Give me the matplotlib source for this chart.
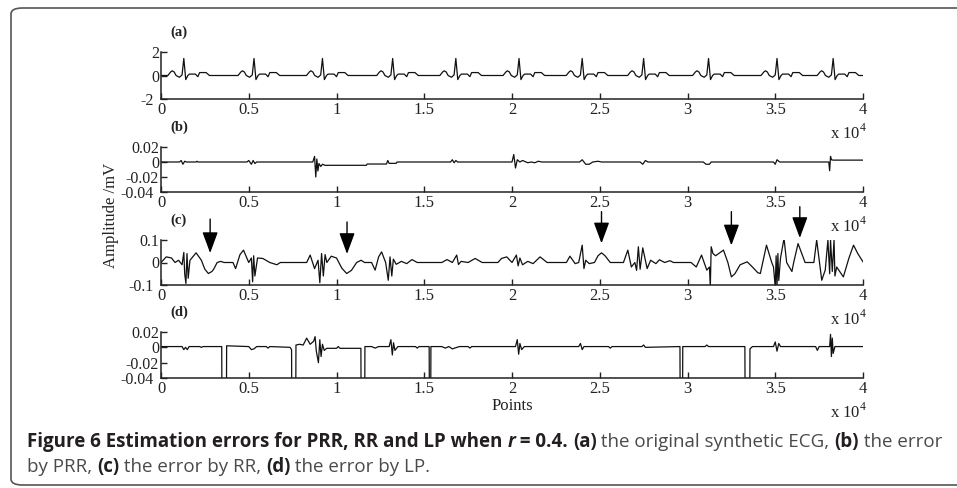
import matplotlib
matplotlib.use("Agg")
import matplotlib.pyplot as plt
import matplotlib.transforms as mtransforms
from matplotlib.patches import FancyBboxPatch

plt.rcParams['font.family'] = 'Liberation Serif'
plt.rcParams['mathtext.fontset'] = 'custom'
plt.rcParams['mathtext.rm'] = 'Liberation Serif'
plt.rcParams['axes.unicode_minus'] = False

W, H = 957, 488

# (a) synthetic ECG: R peak positions (x10^4 points) and one beat shape around the R peak
beat_pos = [0.13, 0.53, 0.92, 1.32, 1.68, 2.04, 2.40, 2.75, 3.12, 3.51, 3.83]
beat_off = [-0.091, -0.075, -0.066, -0.055, -0.044, -0.025, -0.010, 0.0, 0.011, 0.023,
            0.032, 0.066, 0.080, 0.090, 0.127, 0.146]
beat_amp = [0.0, 0.3, 0.4, 0.3, 0.0, -0.15, 0.05, 1.45, -0.35, 0.0,
            0.12, 0.12, -0.1, 0.25, 0.25, 0.0]

# (b) error by PRR
b_x = [0.00, 0.105, 0.115, 0.125, 0.135, 0.145, 0.20, 0.205, 0.21,
       0.49, 0.50, 0.515, 0.525, 0.535, 0.545,
       0.865, 0.875, 0.882, 0.888, 0.894, 0.90, 0.91, 0.92, 0.935, 0.96,
       1.17, 1.175, 1.285, 1.292, 1.30, 1.305, 1.34, 1.345,
       1.65, 1.66, 1.67, 1.68, 1.69,
       2.00, 2.01, 2.02, 2.03, 2.045, 2.06, 2.09, 2.11, 2.13, 2.15, 2.17,
       2.385, 2.40, 2.42, 2.44, 2.46, 2.49, 2.51,
       2.73, 2.745, 2.76, 2.775,
       3.09, 3.105, 3.125, 3.135,
       3.49, 3.50, 3.51, 3.525,
       3.805, 3.81, 3.815, 3.82, 3.83, 4.00]
b_y = [0.0, 0.0, 0.002, -0.003, 0.001, 0.0, 0.0, 0.001, 0.0,
       0.0, 0.002, -0.003, 0.002, -0.002, 0.0,
       0.0, 0.0075, -0.02, 0.004, -0.012, -0.002, -0.006, -0.003, -0.0045, -0.0044,
       -0.0044, -0.0027, -0.0027, 0.002, -0.0018, -0.0018, -0.0018, 0.0,
       0.0, 0.003, -0.001, 0.002, 0.0,
       0.0, 0.01, -0.008, 0.003, 0.0, 0.002, -0.001, 0.0, -0.001, 0.001, 0.0,
       0.0, 0.003, -0.003, -0.003, 0.0, 0.001, 0.0,
       0.0, -0.003, 0.002, 0.0,
       0.0, -0.003, -0.003, 0.0,
       0.0, -0.003, 0.003, 0.0,
       0.0, -0.0116, 0.0075, 0.003, 0.0025, 0.0025]

# (c) error by RR
c_x = [0.00, 0.03, 0.06, 0.08, 0.10, 0.12, 0.13, 0.135, 0.142, 0.148, 0.155, 0.165, 0.20, 0.23, 0.25, 0.27, 0.29, 0.30, 0.32, 0.34, 0.36, 0.41,
       0.425, 0.45, 0.47, 0.50, 0.515, 0.522, 0.528, 0.535, 0.55, 0.58, 0.62, 0.66, 0.68,
       0.83, 0.85, 0.875, 0.895, 0.905, 0.915, 0.925, 0.935, 0.945, 0.97, 1.00, 1.03, 1.058, 1.085, 1.115, 1.14, 1.16,
       1.20, 1.22, 1.24, 1.257, 1.28, 1.295, 1.305, 1.315, 1.324, 1.34, 1.37, 1.40, 1.43, 1.46,
       1.60, 1.63, 1.66, 1.685, 1.695, 1.71, 1.75, 1.79, 1.83,
       1.92, 1.94, 1.97, 2.00, 2.025, 2.035, 2.045, 2.06, 2.09, 2.12, 2.16, 2.20,
       2.31, 2.33, 2.36, 2.38, 2.40, 2.41, 2.42, 2.44, 2.47, 2.49, 2.51, 2.53, 2.56,
       2.635, 2.66, 2.68, 2.70, 2.71, 2.72, 2.73, 2.745, 2.77, 2.79, 2.82, 2.84, 2.87, 2.90, 2.92,
       3.02, 3.05, 3.08, 3.11, 3.125, 3.13, 3.135, 3.145, 3.16, 3.205, 3.23, 3.25, 3.27, 3.30, 3.34, 3.37, 3.40, 3.415, 3.45,
       3.48, 3.49, 3.50, 3.505, 3.51, 3.515, 3.52, 3.53, 3.55, 3.565, 3.595, 3.605, 3.63, 3.67, 3.72,
       3.736, 3.765, 3.785, 3.80, 3.81, 3.815, 3.825, 3.835, 3.84, 3.85, 3.888, 3.92, 3.946, 3.97, 4.00]
c_y = [0.0, 0.025, 0.02, 0.0, 0.01, -0.01, 0.045, -0.05, -0.093, 0.04, -0.07, 0.01, 0.043, 0.01, -0.03, -0.049, -0.04, -0.03, 0.0, 0.005, 0.0, 0.0,
       -0.027, 0.035, 0.055, 0.0, 0.02, -0.086, 0.03, -0.06, 0.02, 0.018, 0.0, -0.01, 0.0,
       0.0, 0.033, -0.027, 0.01, -0.09, 0.04, -0.06, 0.035, 0.0, 0.028, 0.02, -0.025, -0.049, -0.035, 0.0, 0.01, 0.0,
       0.0, -0.034, 0.025, 0.047, 0.0, -0.079, 0.025, -0.06, 0.015, -0.008, 0.005, -0.005, 0.013, 0.0,
       0.0, 0.013, 0.0, 0.033, -0.009, 0.005, 0.0, 0.018, 0.0,
       0.0, 0.018, 0.025, 0.0, 0.033, -0.015, 0.02, -0.01, 0.005, -0.005, 0.025, 0.0,
       0.0, 0.028, -0.005, 0.0, 0.077, -0.027, 0.01, -0.005, 0.0, 0.03, 0.043, 0.03, 0.0,
       0.0, 0.055, -0.02, 0.0, -0.035, 0.07, -0.03, 0.065, -0.027, 0.01, -0.005, 0.012, 0.0, 0.008, 0.0,
       0.0, -0.02, 0.033, -0.034, -0.02, -0.11, 0.07, 0.04, 0.03, 0.055, 0.0, -0.064, -0.05, -0.01, 0.003, -0.02, -0.045, -0.049, 0.077,
       0.0, -0.02, -0.11, 0.03, -0.11, 0.04, -0.08, 0.02, 0.107, 0.0, -0.04, 0.0, 0.084, 0.0, 0.0,
       0.1, -0.079, -0.033, 0.1, -0.05, 0.1, -0.04, 0.1, -0.06, -0.02, -0.064, 0.02, 0.077, 0.04, 0.003]

# arrows in (c): x position, tip and tail heights
arrow_x = [0.28, 1.06, 2.51, 3.25, 3.64]
arrow_tip = [0.042, 0.038, 0.085, 0.076, 0.109]
arrow_tail = [0.193, 0.18, 0.226, 0.226, 0.248]

# (d) error by LP
d_x = [0.00, 0.12, 0.13, 0.14, 0.15, 0.16, 0.22, 0.23, 0.24, 0.346, 0.347, 0.373, 0.374,
       0.50, 0.515, 0.53, 0.545, 0.60, 0.61, 0.62, 0.735, 0.744, 0.745, 0.768, 0.769,
       0.79, 0.81, 0.83, 0.85, 0.87, 0.878, 0.885, 0.897, 0.905, 0.912, 0.92, 0.93, 0.944, 1.00, 1.01, 1.02, 1.139, 1.14, 1.161, 1.162,
       1.20, 1.22, 1.24, 1.30, 1.31, 1.318, 1.325, 1.333, 1.35, 1.45, 1.46, 1.47, 1.528, 1.529, 1.537, 1.538,
       1.60, 1.62, 1.64, 1.66, 1.70, 1.75, 1.76, 1.77, 2.02, 2.03, 2.038, 2.045, 2.055, 2.07,
       2.38, 2.39, 2.40, 2.41, 2.55, 2.56, 2.57, 2.74, 2.75, 2.76, 2.957, 2.958, 2.972, 2.973,
       3.10, 3.11, 3.12, 3.327, 3.328, 3.355, 3.356, 3.37,
       3.49, 3.50, 3.51, 3.52, 3.53, 3.73, 3.74, 3.75, 3.81, 3.815, 3.82, 3.825, 3.83, 3.84, 4.00]
d_y = [0.001, 0.001, -0.003, 0.0, -0.003, 0.001, 0.001, 0.0, 0.001, 0.001, -0.06, -0.06, 0.002,
       0.001, -0.003, -0.002, 0.001, 0.001, -0.001, 0.001, 0.0, -0.003, -0.06, -0.06, 0.003,
       0.004, 0.003, 0.012, 0.004, 0.008, 0.014, -0.005, -0.02, 0.01, -0.012, 0.004, -0.004, -0.0013, -0.0013, 0.001, -0.0013, -0.0013, -0.06, -0.06, 0.001,
       0.001, -0.001, 0.001, 0.001, 0.01, -0.01, 0.006, -0.004, 0.001, 0.001, -0.001, 0.001, 0.001, -0.06, -0.06, 0.001,
       0.001, -0.001, 0.001, -0.002, 0.001, 0.001, -0.001, 0.001, 0.001, 0.01, -0.009, 0.005, -0.003, 0.001,
       0.001, 0.005, -0.003, 0.001, 0.001, -0.001, 0.001, 0.001, 0.003, 0.0, 0.001, -0.06, -0.06, 0.001,
       0.001, 0.003, 0.001, 0.001, -0.06, -0.06, -0.002, 0.001,
       0.001, 0.007, -0.005, 0.005, 0.001, 0.001, -0.004, 0.001, 0.001, 0.017, -0.012, 0.012, -0.008, 0.001, 0.001]

x_ticks = [0, 0.5, 1, 1.5, 2, 2.5, 3, 3.5, 4]
panel_labels = ['(a)', '(b)', '(c)', '(d)']

ecg_x = [0.0] + [p + o for p in beat_pos for o in beat_off] + [4.0]
ecg_y = [0.0] + [a for p in beat_pos for a in beat_amp] + [0.0]

fig = plt.figure(figsize=(W / 100, H / 100), dpi=100)
fig.patch.set_facecolor('white')

# rounded frame around figure + caption (right side runs off the image)
frame = FancyBboxPatch((11 / W, 1 - 485 / H), 960 / W, 477 / H,
                       boxstyle='round,pad=0,rounding_size=0.012',
                       transform=fig.transFigure, fill=False,
                       edgecolor='#555555', linewidth=1.2, clip_on=False)
fig.patches.append(frame)

# axes boxes in pixels: top, bottom
boxes = [(52, 99), (147, 192), (240, 285), (332, 378)]
series = [(ecg_x, ecg_y), (b_x, b_y), (c_x, c_y), (d_x, d_y)]
ylims = [(-2, 2), (-0.04, 0.02), (-0.1, 0.1), (-0.04, 0.02)]
yticks = [[-2, 0, 2], [-0.04, -0.02, 0, 0.02], [-0.1, 0, 0.1], [-0.04, -0.02, 0, 0.02]]
left, right = 161, 863
nudge_left = mtransforms.ScaledTranslation(-0.05, 0, fig.dpi_scale_trans)

axes = []
for i, (top, bot) in enumerate(boxes):
    ax = fig.add_axes([left / W, 1 - bot / H, (right - left) / W, (bot - top) / H])
    xs, ys = series[i]
    ax.plot(xs, ys, color='#111111', lw=0.9)
    ax.set_xlim(0, 4)
    ax.set_ylim(*ylims[i])
    ax.set_xticks(x_ticks)
    ax.set_xticklabels([f'{v:g}' for v in x_ticks])
    ax.set_yticks(yticks[i])
    ax.set_yticklabels([f'{v:g}' for v in yticks[i]])
    for s in ['top', 'right']:
        ax.spines[s].set_visible(False)
    for s in ['left', 'bottom']:
        ax.spines[s].set_linewidth(1.1)
        ax.spines[s].set_color('#222222')
    ax.tick_params(direction='in', length=4, width=1.0, labelsize=12, pad=2,
                   colors='#222222')
    ax.tick_params(axis='y', labelsize=11.5, pad=1.5)
    # lowest y label sits just left of the "0" x label, as in the original
    low = ax.get_yticklabels()[0]
    low.set_transform(low.get_transform() + nudge_left)
    ax.patch.set_alpha(0)
    ax.annotate(r'x 10$^{4}$', xy=(1, 0), xycoords='axes fraction',
                xytext=(4, -34), textcoords='offset pixels',
                ha='right', va='center', fontsize=12, color='#222222')
    fig.text(170 / W, 1 - (top - 20) / H, panel_labels[i], fontsize=10.5,
             weight='bold', ha='left', va='center', color='#222222')
    axes.append(ax)

ax_c = axes[2]
for x, tip, tail in zip(arrow_x, arrow_tip, arrow_tail):
    ax_c.annotate('', xy=(x, tip), xytext=(x, tail),
                  arrowprops=dict(arrowstyle='-|>,head_length=0.65,head_width=0.24',
                                  color='black', lw=1.0, mutation_scale=20,
                                  shrinkA=0, shrinkB=0),
                  annotation_clip=False)

axes[3].set_xlabel('Points', fontsize=12, labelpad=1, color='#222222')
fig.text(111 / W, 1 - 215 / H, 'Amplitude /mV', rotation=90, fontsize=12,
         ha='center', va='center', color='#222222')

# caption: mixed bold / italic / regular runs
dark, grey = '#231f20', '#4a4a4a'
line1 = [('Figure 6 Estimation errors for PRR, RR and LP when ', 'bold', 'normal', dark),
         ('r', 'bold', 'italic', dark),
         (' = 0.4. ', 'bold', 'normal', dark),
         ('(a)', 'bold', 'normal', dark),
         (' the original synthetic ECG, ', 'normal', 'normal', grey),
         ('(b)', 'bold', 'normal', dark),
         (' the error', 'normal', 'normal', grey)]
line2 = [('by PRR, ', 'normal', 'normal', grey),
         ('(c)', 'bold', 'normal', dark),
         (' the error by RR, ', 'normal', 'normal', grey),
         ('(d)', 'bold', 'normal', dark),
         (' the error by LP.', 'normal', 'normal', grey)]

renderer = fig.canvas.get_renderer()


def run_width(s, weight, style, size):
    kw = dict(fontsize=size, family='Open Sans', weight=weight, style=style)
    t1 = fig.text(0, 0, '|' + s + '|', **kw)
    t2 = fig.text(0, 0, '||', **kw)
    w = t1.get_window_extent(renderer).width - t2.get_window_extent(renderer).width
    t1.remove()
    t2.remove()
    return w


def draw_line(runs, x0, base, size):
    x = x0
    for s, weight, style, color in runs:
        fig.text(x / W, 1 - base / H, s, fontsize=size, family='Open Sans',
                 weight=weight, style=style, color=color, va='baseline', ha='left')
        x += run_width(s, weight, style, size)


size = 11
total = sum(run_width(s, w, st, size) for s, w, st, c in line1)
size = size * (945 - 27) / total
draw_line(line1, 27, 447, size)
draw_line(line2, 27, 472, size)

fig.savefig('out.png', dpi=100, facecolor='white')
